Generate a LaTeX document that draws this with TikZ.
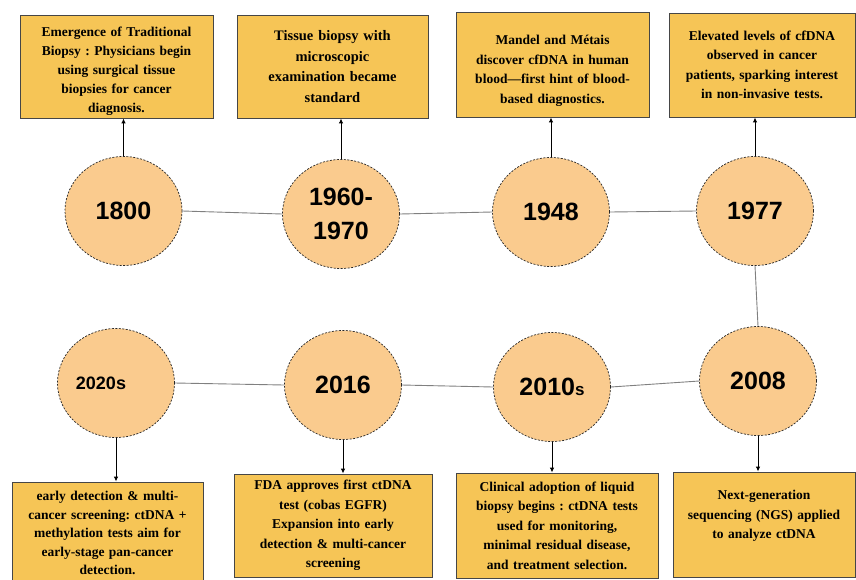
\documentclass[tikz,border=0pt]{standalone}
\usepackage{fontspec}
\setmainfont{Liberation Serif}
\newfontfamily\yearfont{Liberation Sans}
\usetikzlibrary{shapes.geometric,arrows.meta}
\definecolor{boxfill}{RGB}{246,197,86}
\definecolor{circfill}{RGB}{250,203,142}
\definecolor{boxedge}{RGB}{70,70,70}
\frenchspacing
\tikzset{
  evbox/.style={draw=boxedge, line width=0.8pt, fill=boxfill, inner sep=0pt,
    text width=#1, align=center, font=\fontsize{13.5}{19.5}\selectfont\bfseries},
  yearnode/.style={ellipse, draw=black!85, dashed, dash pattern=on 2pt off 1.5pt,
    line width=0.7pt, fill=circfill, minimum width=117pt, minimum height=109pt,
    inner sep=0pt, align=center, font=\yearfont\bfseries\fontsize{25}{32}\selectfont},
  link/.style={draw=black!50, line width=0.9pt},
  evarrow/.style={draw=black, line width=1pt, -{Latex[length=5pt,width=4.5pt]}}
}
\begin{document}
\begin{tikzpicture}[x=1pt,y=-1pt]
\useasboundingbox (0,0) rectangle (856,579);
\fill[white] (0,0) rectangle (856,579);

% year circles
\node[yearnode] (c1) at (123.5,211) {1800};
\node[yearnode] (c2) at (341,214) {1960-\\[2pt]1970};
\node[yearnode] (c3) at (551,212) {1948};
\node[yearnode] (c4) at (755,211) {1977};
\node[yearnode] (c8) at (758,381) {2008};
\node[yearnode] (c7) at (552,387) {2010{\fontsize{17}{20}\selectfont s}};
\node[yearnode] (c6) at (343,385) {2016};
\node[yearnode, font=\yearfont\bfseries\fontsize{18}{22}\selectfont] (c5) at (116,383) {2020s\hspace*{30pt}};

% event boxes (top)
\node[evbox=193pt, minimum width=193pt, minimum height=103pt, font=\fontsize{13.5}{19}\selectfont\bfseries] (b1) at (116.5,66.5)
  {\rule{0pt}{19pt}Emergence of Traditional\\Biopsy : Physicians begin\\using surgical tissue\\biopsies for cancer\\diagnosis.};
\node[evbox=191pt, minimum width=191pt, minimum height=103pt, font=\fontsize{14.5}{20.5}\selectfont\bfseries] (b2) at (332.5,66.5)
  {Tissue biopsy with\\microscopic\\examination became\\standard};
\node[evbox=193pt, minimum width=193pt, minimum height=105pt] (b3) at (552.5,64.5)
  {\rule{0pt}{22pt}Mandel and Métais\\discover cfDNA in human\\blood---first hint of blood-\\based diagnostics.};
\node[evbox=186pt, minimum width=186pt, minimum height=104pt] (b4) at (762,65)
  {Elevated levels of cfDNA\\observed in cancer\\patients, sparking interest\\in non-invasive tests.};

% event boxes (bottom)
\node[evbox=191pt, minimum width=191pt, minimum height=102pt, font=\fontsize{13.5}{18.5}\selectfont\bfseries] (b5) at (107.5,533)
  {early detection \& multi-\\cancer screening: ctDNA +\\methylation tests aim for\\early-stage pan-cancer\\detection.};
\node[evbox=198pt, minimum width=198pt, minimum height=103pt] (b6) at (333,525.5)
  {FDA approves first ctDNA\\test (cobas EGFR)\\Expansion into early\\detection \& multi-cancer\\screening};
\node[evbox=202pt, minimum width=202pt, minimum height=105pt] (b7) at (557,525.5)
  {Clinical adoption of liquid\\biopsy begins : ctDNA tests\\used for monitoring,\\minimal residual disease,\\and treatment selection.};
\node[evbox=182pt, minimum width=182pt, minimum height=105pt] (b8) at (764,524.5)
  {Next-generation\\sequencing (NGS) applied\\to analyze ctDNA\\\mbox{}};

% timeline links
\draw[link] (c1.east) -- (c2.west);
\draw[link] (c2.east) -- (c3.west);
\draw[link] (c3.east) -- (c4.west);
\draw[link] (c4.south) -- (c8.north);
\draw[link] (c8.west) -- (c7.east);
\draw[link] (c7.west) -- (c6.east);
\draw[link] (c6.west) -- (c5.east);

% arrows to event boxes
\draw[evarrow] (c1.north) -- (c1.north |- b1.south);
\draw[evarrow] (c2.north) -- (c2.north |- b2.south);
\draw[evarrow] (c3.north) -- (c3.north |- b3.south);
\draw[evarrow] (c4.north) -- (c4.north |- b4.south);
\draw[evarrow] (c5.south) -- (c5.south |- b5.north);
\draw[evarrow] (c6.south) -- (c6.south |- b6.north);
\draw[evarrow] (c7.south) -- (c7.south |- b7.north);
\draw[evarrow] (c8.south) -- (c8.south |- b8.north);
\end{tikzpicture}
\end{document}
